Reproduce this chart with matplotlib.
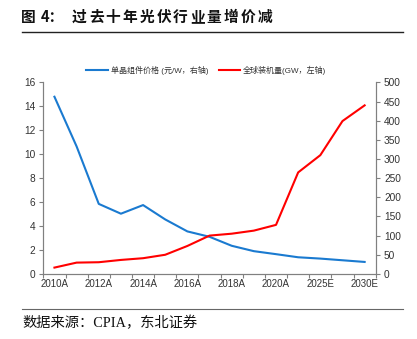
import matplotlib
matplotlib.use('Agg')
import matplotlib.pyplot as plt
import numpy as np

plt.rcParams['font.family'] = ['Liberation Sans', 'Noto Sans CJK SC', 'DejaVu Sans']

# data
years = ['2010A', '2011A', '2012A', '2013A', '2014A', '2015A', '2016A', '2017A',
         '2018A', '2019A', '2020A', '2021A', '2025E', '2027E', '2030E']
price = [14.8, 10.65, 5.85, 5.03, 5.75, 4.55, 3.55, 3.1, 2.35, 1.9, 1.65,
         1.39, 1.28, 1.14, 1.0]          # 元/W
installed = [16.5, 29.5, 30.5, 36.5, 41, 50, 73, 100, 105, 113, 128,
             265, 310, 399, 440]         # GW
price_label = '单晶组件价格 (元/W，右轴)'
inst_label = '全球装机量(GW，左轴)'
title = '图 4：过去十年光伏行业量增价减'
source = '数据来源：CPIA，东北证券'

blue = '#1a7ad0'
red = '#ff0000'
grey = '#808080'
txt = '#333333'

W, H = 417, 339
fig = plt.figure(figsize=(W / 100, H / 100), dpi=100)
ax = fig.add_axes([0.104, 0.192, 0.797, 0.565])
ax2 = ax.twinx()

x = np.arange(len(years))
l1, = ax.plot(x, price, color=blue, lw=1.5, label=price_label)
l2, = ax2.plot(x, installed, color=red, lw=1.5, label=inst_label)

ax.set_xlim(-0.5, len(years) - 0.5)
ax.set_ylim(0, 16)
ax.set_yticks(np.arange(0, 17, 2))
ax2.set_ylim(0, 500)
ax2.set_yticks(np.arange(0, 501, 50))

# category ticks on boundaries, labels every other category
ax.set_xticks(np.arange(-0.5, len(years), 1.0))
ax.set_xticklabels([])
ax.set_xticks(x[::2], minor=True)
ax.set_xticklabels(years[::2], minor=True)
ax.tick_params(axis='x', which='minor', length=0, pad=4, labelsize=7,
               labelcolor=txt)
ax.tick_params(axis='x', which='major', length=3, color=grey, width=0.8)

for a in (ax, ax2):
    a.spines['top'].set_visible(False)
    for s in ('left', 'right', 'bottom'):
        a.spines[s].set_color(grey)
        a.spines[s].set_linewidth(0.8)
    a.tick_params(axis='y', length=3, color=grey, width=0.8, labelsize=7.3,
                  labelcolor=txt, pad=3)

ax.legend([l1, l2], [price_label, inst_label], loc='center',
          bbox_to_anchor=(0.49, 1.062), ncol=2, frameon=False, fontsize=5.8,
          handlelength=2.7, handletextpad=0.3, columnspacing=1.3,
          labelcolor=txt)

# header with spaced characters, like the reference
def spaced(chars, x0, y, pitch, **kw):
    xp = x0
    for ch in chars:
        fig.text(xp / W, 1 - y / H, ch, va='center', ha='left', **kw)
        xp += pitch if ord(ch) > 127 else pitch * 0.5

tkw = dict(fontsize=10.6, fontweight='bold', family=['Noto Sans CJK SC'],
           color='#111111')
fig.text(21 / W, 1 - 17 / H, '图', va='center', ha='left', **tkw)
fig.text(41 / W, 1 - 17 / H, '4：', va='center', ha='left', **tkw)
spaced(title[4:], 72, 17, 16.85, **tkw)

fig.add_artist(plt.Line2D([22 / W, 403 / W], [1 - 32.3 / H, 1 - 32.3 / H],
                          color='#222222', lw=1.0))
fig.add_artist(plt.Line2D([22 / W, 403 / W], [1 - 309 / H, 1 - 309 / H],
                          color='#666666', lw=0.8))

fig.text(22 / W, 1 - 323 / H, source, fontsize=10.3,
         family=['Liberation Serif', 'Noto Sans CJK SC'], va='center',
         ha='left', color='#111111')

fig.savefig('out.png', dpi=100)
